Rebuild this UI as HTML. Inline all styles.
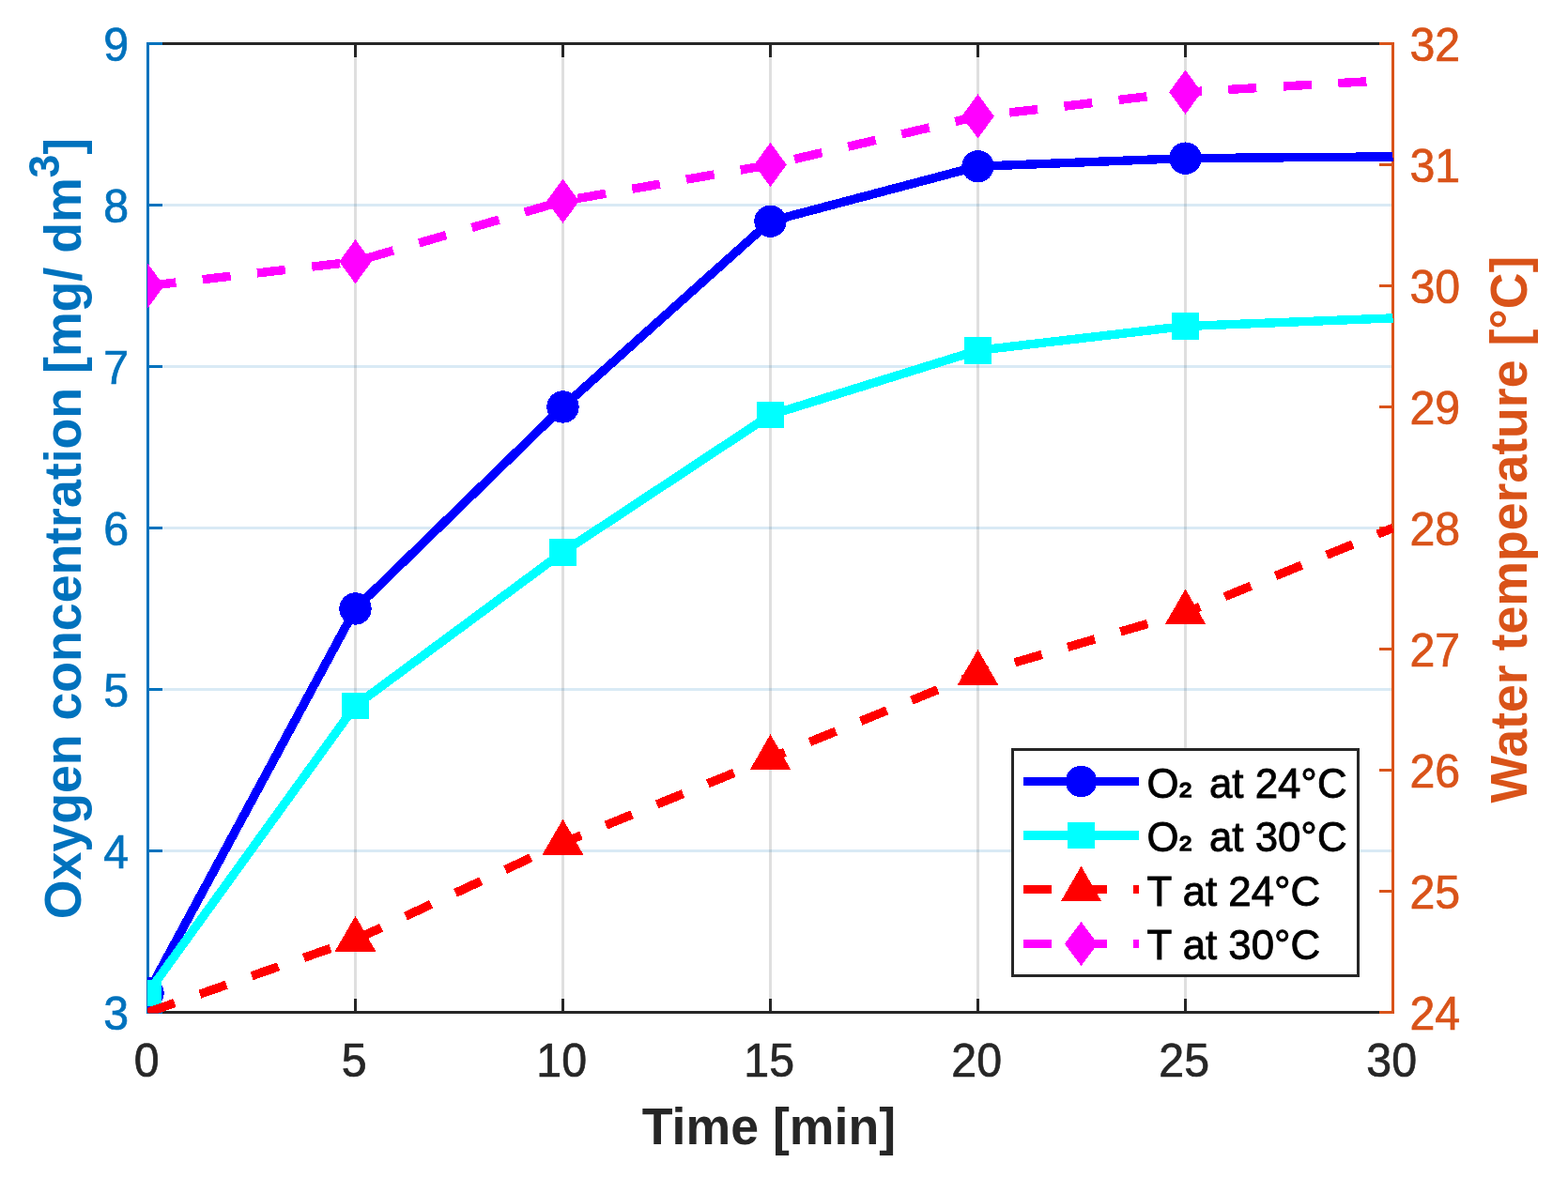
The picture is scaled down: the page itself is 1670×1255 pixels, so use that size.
<!DOCTYPE html>
<html lang="en"><head><meta charset="utf-8"><title>Figure</title>
<style>
html,body{margin:0;padding:0;background:#fff;}
body{width:1670px;height:1255px;overflow:hidden;}
svg{display:block;}
text{font-family:"Liberation Sans",sans-serif;}
.tk{font-size:48.3px;}
.lb{font-size:53.65px;font-weight:bold;}
.lg{font-size:43.8px;fill:#000;stroke:#000;stroke-width:0.9px;}
</style></head><body>
<svg width="1670" height="1255" viewBox="0 0 1670 1255">
<rect x="0" y="0" width="1670" height="1255" fill="#fff"/>
<defs><clipPath id="plot"><rect x="157" y="46" width="1327" height="1033.5"/></clipPath></defs>
<g shape-rendering="crispEdges">
<line x1="378.5" y1="46.5" x2="378.5" y2="1078.5" stroke="rgba(38,38,38,0.15)" stroke-width="3"/>
<line x1="599.5" y1="46.5" x2="599.5" y2="1078.5" stroke="rgba(38,38,38,0.15)" stroke-width="3"/>
<line x1="820.5" y1="46.5" x2="820.5" y2="1078.5" stroke="rgba(38,38,38,0.15)" stroke-width="3"/>
<line x1="1041.5" y1="46.5" x2="1041.5" y2="1078.5" stroke="rgba(38,38,38,0.15)" stroke-width="3"/>
<line x1="1262.5" y1="46.5" x2="1262.5" y2="1078.5" stroke="rgba(38,38,38,0.15)" stroke-width="3"/>
<line x1="157.5" y1="906.5" x2="1483.5" y2="906.5" stroke="rgba(0,114,189,0.15)" stroke-width="3"/>
<line x1="157.5" y1="734.5" x2="1483.5" y2="734.5" stroke="rgba(0,114,189,0.15)" stroke-width="3"/>
<line x1="157.5" y1="562.5" x2="1483.5" y2="562.5" stroke="rgba(0,114,189,0.15)" stroke-width="3"/>
<line x1="157.5" y1="390.5" x2="1483.5" y2="390.5" stroke="rgba(0,114,189,0.15)" stroke-width="3"/>
<line x1="157.5" y1="218.5" x2="1483.5" y2="218.5" stroke="rgba(0,114,189,0.15)" stroke-width="3"/>
<rect x="156" y="45" width="1329" height="3" fill="#262626"/>
<rect x="156" y="1077" width="1329" height="3" fill="#262626"/>
<rect x="377" y="1064" width="3" height="13" fill="#262626"/>
<rect x="377" y="48" width="3" height="13" fill="#262626"/>
<rect x="598" y="1064" width="3" height="13" fill="#262626"/>
<rect x="598" y="48" width="3" height="13" fill="#262626"/>
<rect x="819" y="1064" width="3" height="13" fill="#262626"/>
<rect x="819" y="48" width="3" height="13" fill="#262626"/>
<rect x="1040" y="1064" width="3" height="13" fill="#262626"/>
<rect x="1040" y="48" width="3" height="13" fill="#262626"/>
<rect x="1261" y="1064" width="3" height="13" fill="#262626"/>
<rect x="1261" y="48" width="3" height="13" fill="#262626"/>
<rect x="156" y="45" width="3" height="1035" fill="#0072BD"/>
<rect x="159" y="1077" width="14" height="3" fill="#0072BD"/>
<rect x="159" y="905" width="14" height="3" fill="#0072BD"/>
<rect x="159" y="733" width="14" height="3" fill="#0072BD"/>
<rect x="159" y="561" width="14" height="3" fill="#0072BD"/>
<rect x="159" y="389" width="14" height="3" fill="#0072BD"/>
<rect x="159" y="217" width="14" height="3" fill="#0072BD"/>
<rect x="159" y="45" width="14" height="3" fill="#0072BD"/>
<rect x="1482" y="45" width="3" height="1035" fill="#D95319"/>
<rect x="1469" y="1077" width="13" height="3" fill="#D95319"/>
<rect x="1469" y="948" width="13" height="3" fill="#D95319"/>
<rect x="1469" y="819" width="13" height="3" fill="#D95319"/>
<rect x="1469" y="690" width="13" height="3" fill="#D95319"/>
<rect x="1469" y="561" width="13" height="3" fill="#D95319"/>
<rect x="1469" y="432" width="13" height="3" fill="#D95319"/>
<rect x="1469" y="303" width="13" height="3" fill="#D95319"/>
<rect x="1469" y="174" width="13" height="3" fill="#D95319"/>
<rect x="1469" y="45" width="13" height="3" fill="#D95319"/>
</g>
<g clip-path="url(#plot)" shape-rendering="crispEdges">
<polyline points="157.5,1057.86 378.5,648.5 599.5,433.5 820.5,235.7 1041.5,177.22 1262.5,168.62 1483.5,166.9" fill="none" stroke="#0000FF" stroke-width="9.4" stroke-linejoin="round"/>
<circle cx="157.5" cy="1057.86" r="17.2" fill="#0000FF"/>
<circle cx="378.5" cy="648.5" r="17.2" fill="#0000FF"/>
<circle cx="599.5" cy="433.5" r="17.2" fill="#0000FF"/>
<circle cx="820.5" cy="235.7" r="17.2" fill="#0000FF"/>
<circle cx="1041.5" cy="177.22" r="17.2" fill="#0000FF"/>
<circle cx="1262.5" cy="168.62" r="17.2" fill="#0000FF"/>
<polyline points="157.5,1057.86 378.5,751.7 599.5,588.3 820.5,442.1 1041.5,373.3 1262.5,347.5 1483.5,338.9" fill="none" stroke="#00FFFF" stroke-width="9.4" stroke-linejoin="round"/>
<rect x="143" y="1043.66" width="29" height="28.4" fill="#00FFFF"/>
<rect x="364" y="737.5" width="29" height="28.4" fill="#00FFFF"/>
<rect x="585" y="574.1" width="29" height="28.4" fill="#00FFFF"/>
<rect x="806" y="427.9" width="29" height="28.4" fill="#00FFFF"/>
<rect x="1027" y="359.1" width="29" height="28.4" fill="#00FFFF"/>
<rect x="1248" y="333.3" width="29" height="28.4" fill="#00FFFF"/>
<polyline points="157.5,1078.5 378.5,1001.1 599.5,897.9 820.5,807.6 1041.5,717.3 1262.5,652.8 1483.5,562.5" fill="none" stroke="#FF0000" stroke-width="9.4" stroke-dasharray="30.1 28.52" stroke-linejoin="round"/>
<polygon points="378.5,975.8 356.59,1013.75 400.41,1013.75" fill="#FF0000"/>
<polygon points="599.5,872.6 577.59,910.55 621.41,910.55" fill="#FF0000"/>
<polygon points="820.5,782.3 798.59,820.25 842.41,820.25" fill="#FF0000"/>
<polygon points="1041.5,692 1019.59,729.95 1063.41,729.95" fill="#FF0000"/>
<polygon points="1262.5,627.5 1240.59,665.45 1284.41,665.45" fill="#FF0000"/>
<polyline points="157.5,304.5 378.5,278.7 599.5,214.2 820.5,175.5 1041.5,123.9 1262.5,98.1 1483.5,85.2" fill="none" stroke="#FF00FF" stroke-width="9.4" stroke-dasharray="30.1 28.52" stroke-linejoin="round"/>
<polygon points="157.5,280.9 174.8,304.5 157.5,328.1 140.2,304.5" fill="#FF00FF"/>
<polygon points="378.5,255.1 395.8,278.7 378.5,302.3 361.2,278.7" fill="#FF00FF"/>
<polygon points="599.5,190.6 616.8,214.2 599.5,237.8 582.2,214.2" fill="#FF00FF"/>
<polygon points="820.5,151.9 837.8,175.5 820.5,199.1 803.2,175.5" fill="#FF00FF"/>
<polygon points="1041.5,100.3 1058.8,123.9 1041.5,147.5 1024.2,123.9" fill="#FF00FF"/>
<polygon points="1262.5,74.5 1279.8,98.1 1262.5,121.7 1245.2,98.1" fill="#FF00FF"/>
</g>
<g class="tk" fill="#0072BD" stroke="#0072BD" stroke-width="0.7">
<text transform="translate(137,1097) scale(1,1.02)" text-anchor="end">3</text>
<text transform="translate(137,925) scale(1,1.02)" text-anchor="end">4</text>
<text transform="translate(137,753) scale(1,1.02)" text-anchor="end">5</text>
<text transform="translate(137,581) scale(1,1.02)" text-anchor="end">6</text>
<text transform="translate(137,409) scale(1,1.02)" text-anchor="end">7</text>
<text transform="translate(137,237) scale(1,1.02)" text-anchor="end">8</text>
<text transform="translate(137,65) scale(1,1.02)" text-anchor="end">9</text>
</g>
<g class="tk" fill="#D95319" stroke="#D95319" stroke-width="0.7">
<text transform="translate(1501.4,1096.8) scale(1,1.02)" text-anchor="start">24</text>
<text transform="translate(1501.4,967.8) scale(1,1.02)" text-anchor="start">25</text>
<text transform="translate(1501.4,838.8) scale(1,1.02)" text-anchor="start">26</text>
<text transform="translate(1501.4,709.8) scale(1,1.02)" text-anchor="start">27</text>
<text transform="translate(1501.4,580.8) scale(1,1.02)" text-anchor="start">28</text>
<text transform="translate(1501.4,451.8) scale(1,1.02)" text-anchor="start">29</text>
<text transform="translate(1501.4,322.8) scale(1,1.02)" text-anchor="start">30</text>
<text transform="translate(1501.4,193.8) scale(1,1.02)" text-anchor="start">31</text>
<text transform="translate(1501.4,64.8) scale(1,1.02)" text-anchor="start">32</text>
</g>
<g class="tk" fill="#262626" stroke="#262626" stroke-width="0.7">
<text transform="translate(156.2,1147.3) scale(1,1.02)" text-anchor="middle">0</text>
<text transform="translate(377.2,1147.3) scale(1,1.02)" text-anchor="middle">5</text>
<text transform="translate(598.2,1147.3) scale(1,1.02)" text-anchor="middle">10</text>
<text transform="translate(819.2,1147.3) scale(1,1.02)" text-anchor="middle">15</text>
<text transform="translate(1040.2,1147.3) scale(1,1.02)" text-anchor="middle">20</text>
<text transform="translate(1261.2,1147.3) scale(1,1.02)" text-anchor="middle">25</text>
<text transform="translate(1482.2,1147.3) scale(1,1.02)" text-anchor="middle">30</text>
</g>
<text class="lb" fill="#262626" text-anchor="middle" transform="translate(818.9,1219.4) scale(1,1.03)">Time [min]</text>
<text class="lb" fill="#0072BD" text-anchor="middle" transform="translate(86,563) rotate(-90) scale(1,1.03)">Oxygen concentration [mg/ dm<tspan font-size="44.5px" dy="-22.8">3</tspan><tspan dy="22.8">]</tspan></text>
<text class="lb" fill="#D95319" text-anchor="middle" transform="translate(1625.6,564) rotate(-90) scale(1,1.03)">Water temperature [°C]</text>
<rect x="1078.5" y="798.5" width="368" height="241" fill="#fff" stroke="#262626" stroke-width="3" shape-rendering="crispEdges"/>
<g shape-rendering="crispEdges">
<line x1="1090" y1="832.5" x2="1213" y2="832.5" stroke="#0000FF" stroke-width="9.4"/>
<circle cx="1151.5" cy="832.5" r="16.7" fill="#0000FF"/>
<line x1="1090" y1="890" x2="1213" y2="890" stroke="#00FFFF" stroke-width="9.4"/>
<rect x="1137" y="875.8" width="29" height="28.4" fill="#00FFFF"/>
<line x1="1090" y1="947.5" x2="1213" y2="947.5" stroke="#FF0000" stroke-width="9.4" stroke-dasharray="30.1 28.52"/>
<polygon points="1151.5,922.7 1130.02,959.9 1172.98,959.9" fill="#FF0000"/>
<line x1="1090" y1="1005.5" x2="1213" y2="1005.5" stroke="#FF00FF" stroke-width="9.4" stroke-dasharray="30.1 28.52"/>
<polygon points="1151.5,982 1169.1,1005.5 1151.5,1029 1133.9,1005.5" fill="#FF00FF"/>
</g>
<g class="lg">
<text x="1221.5" y="849.5">O<tspan x="1255.3" dy="-3.9" font-size="38.2px" stroke-width="1.7" stroke-linejoin="miter">₂</tspan><tspan x="1275.8" dy="3.9"> at 24°C</tspan></text>
<text x="1221.5" y="907">O<tspan x="1255.3" dy="-3.9" font-size="38.2px" stroke-width="1.7" stroke-linejoin="miter">₂</tspan><tspan x="1275.8" dy="3.9"> at 30°C</tspan></text>
<text x="1221.5" y="964.5">T at 24°C</text>
<text x="1221.5" y="1022">T at 30°C</text>
</g>
</svg>
</body></html>
